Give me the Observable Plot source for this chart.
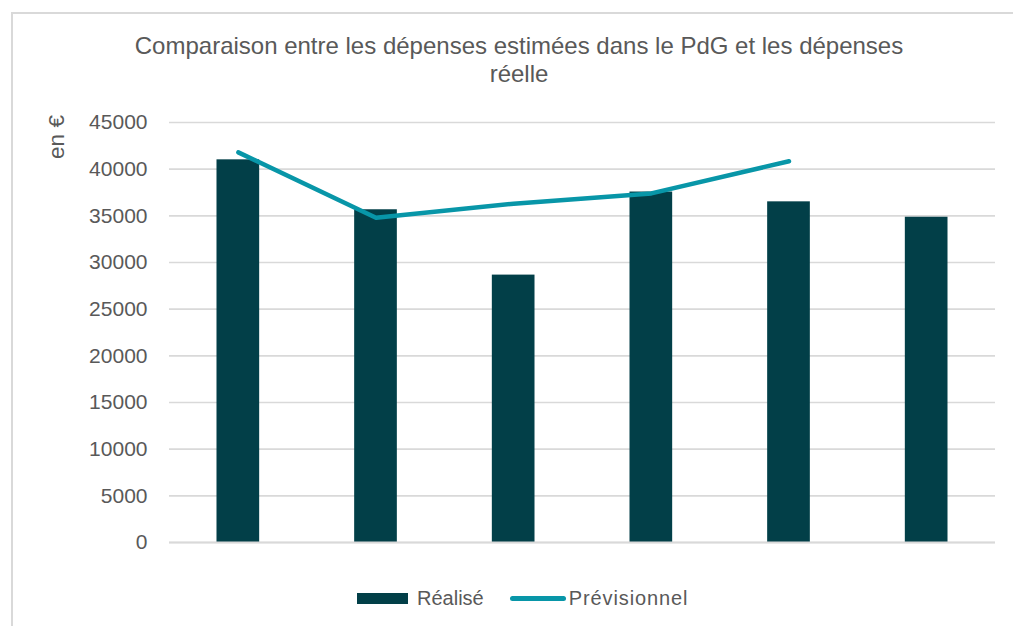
<!DOCTYPE html>
<html>
<head>
<meta charset="utf-8">
<script src="https://cdn.jsdelivr.net/npm/d3@7"></script>
<script src="https://cdn.jsdelivr.net/npm/@observablehq/plot@0.6"></script>
<style>
  html, body { margin: 0; padding: 0; background: #fff; }
  #wrap { position: relative; width: 1013px; height: 626px; overflow: hidden; font-family: "Liberation Sans", Arial, sans-serif; color: #595959; }
  #border { position: absolute; left: 11px; top: 12px; width: 1100px; height: 700px; border: 2px solid #d9d9d9; box-sizing: border-box; }
  #title { position: absolute; left: 19px; width: 1000px; top: 32px; text-align: center; font-size: 24px; line-height: 28px; color: #595959; }
  #ylabel { position: absolute; left: 57px; top: 137px; transform: translate(-50%, -50%) rotate(-90deg); font-size: 22.5px; white-space: nowrap; }
  #legend { position: absolute; top: 587px; left: 357px; display: flex; align-items: center; font-size: 20px; white-space: nowrap; }
  #plot { position: absolute; left: 0; top: 0; }
</style>
</head>
<body>
<div id="wrap">
  <div id="border"></div>
  <div id="plot"></div>
  <div id="title">Comparaison entre les dépenses estimées dans le PdG et les dépenses<br>réelle</div>
  <div id="ylabel">en €</div>
  <div id="legend"></div>
</div>
<script>
const categories = ["1", "2", "3", "4", "5", "6"];
const realise = [41000, 35650, 28650, 37550, 36500, 34850];
const previsionnel = [41800, 34800, 36300, 37400, 40850];
const yTicks = [0, 5000, 10000, 15000, 20000, 25000, 30000, 35000, 40000, 45000];
const seriesNames = ["Réalisé", "Prévisionnel"];
const colors = ["#023f48", "#0896a8"];

const barData = categories.map((c, i) => ({cat: c, value: realise[i]}));
const lineData = previsionnel.map((v, i) => ({cat: categories[i], value: v}));

const chart = Plot.plot({
  width: 1013,
  height: 626,
  marginLeft: 169,
  marginRight: 18,
  marginTop: 122,
  marginBottom: 84,
  style: {fontFamily: "Liberation Sans, Arial, sans-serif", fontSize: "21px", color: "#595959", background: "transparent"},
  x: {type: "band", domain: categories, paddingInner: 0.69, paddingOuter: 0.345, round: false, axis: null},
  y: {domain: [0, 45000], ticks: yTicks},
  marks: [
    Plot.gridY(yTicks, {stroke: "#d9d9d9", strokeWidth: 1.6, strokeOpacity: 1}),
    Plot.axisY(yTicks, {tickSize: 0, tickPadding: 22, tickFormat: d => String(d), label: null, fill: "#595959", fontSize: 21}),
    Plot.barY(barData, {x: "cat", y: "value", fill: colors[0]}),
    Plot.ruleY([0], {stroke: "#d9d9d9", strokeWidth: 2}),
    Plot.line(lineData, {x: "cat", y: "value", stroke: colors[1], strokeWidth: 4.5, curve: "linear", strokeLinecap: "round", strokeLinejoin: "round"})
  ]
});
document.getElementById("plot").appendChild(chart);

const legend = document.getElementById("legend");
legend.innerHTML =
  `<span style="display:inline-block;width:51px;height:11px;background:${colors[0]};margin-right:9px"></span>` +
  `<span>${seriesNames[0]}</span>` +
  `<span style="display:inline-block;width:56px;height:5px;border-radius:3px;background:${colors[1]};margin-left:26px;margin-right:3px"></span>` +
  `<span style="letter-spacing:0.9px">${seriesNames[1]}</span>`;
</script>
</body>
</html>
